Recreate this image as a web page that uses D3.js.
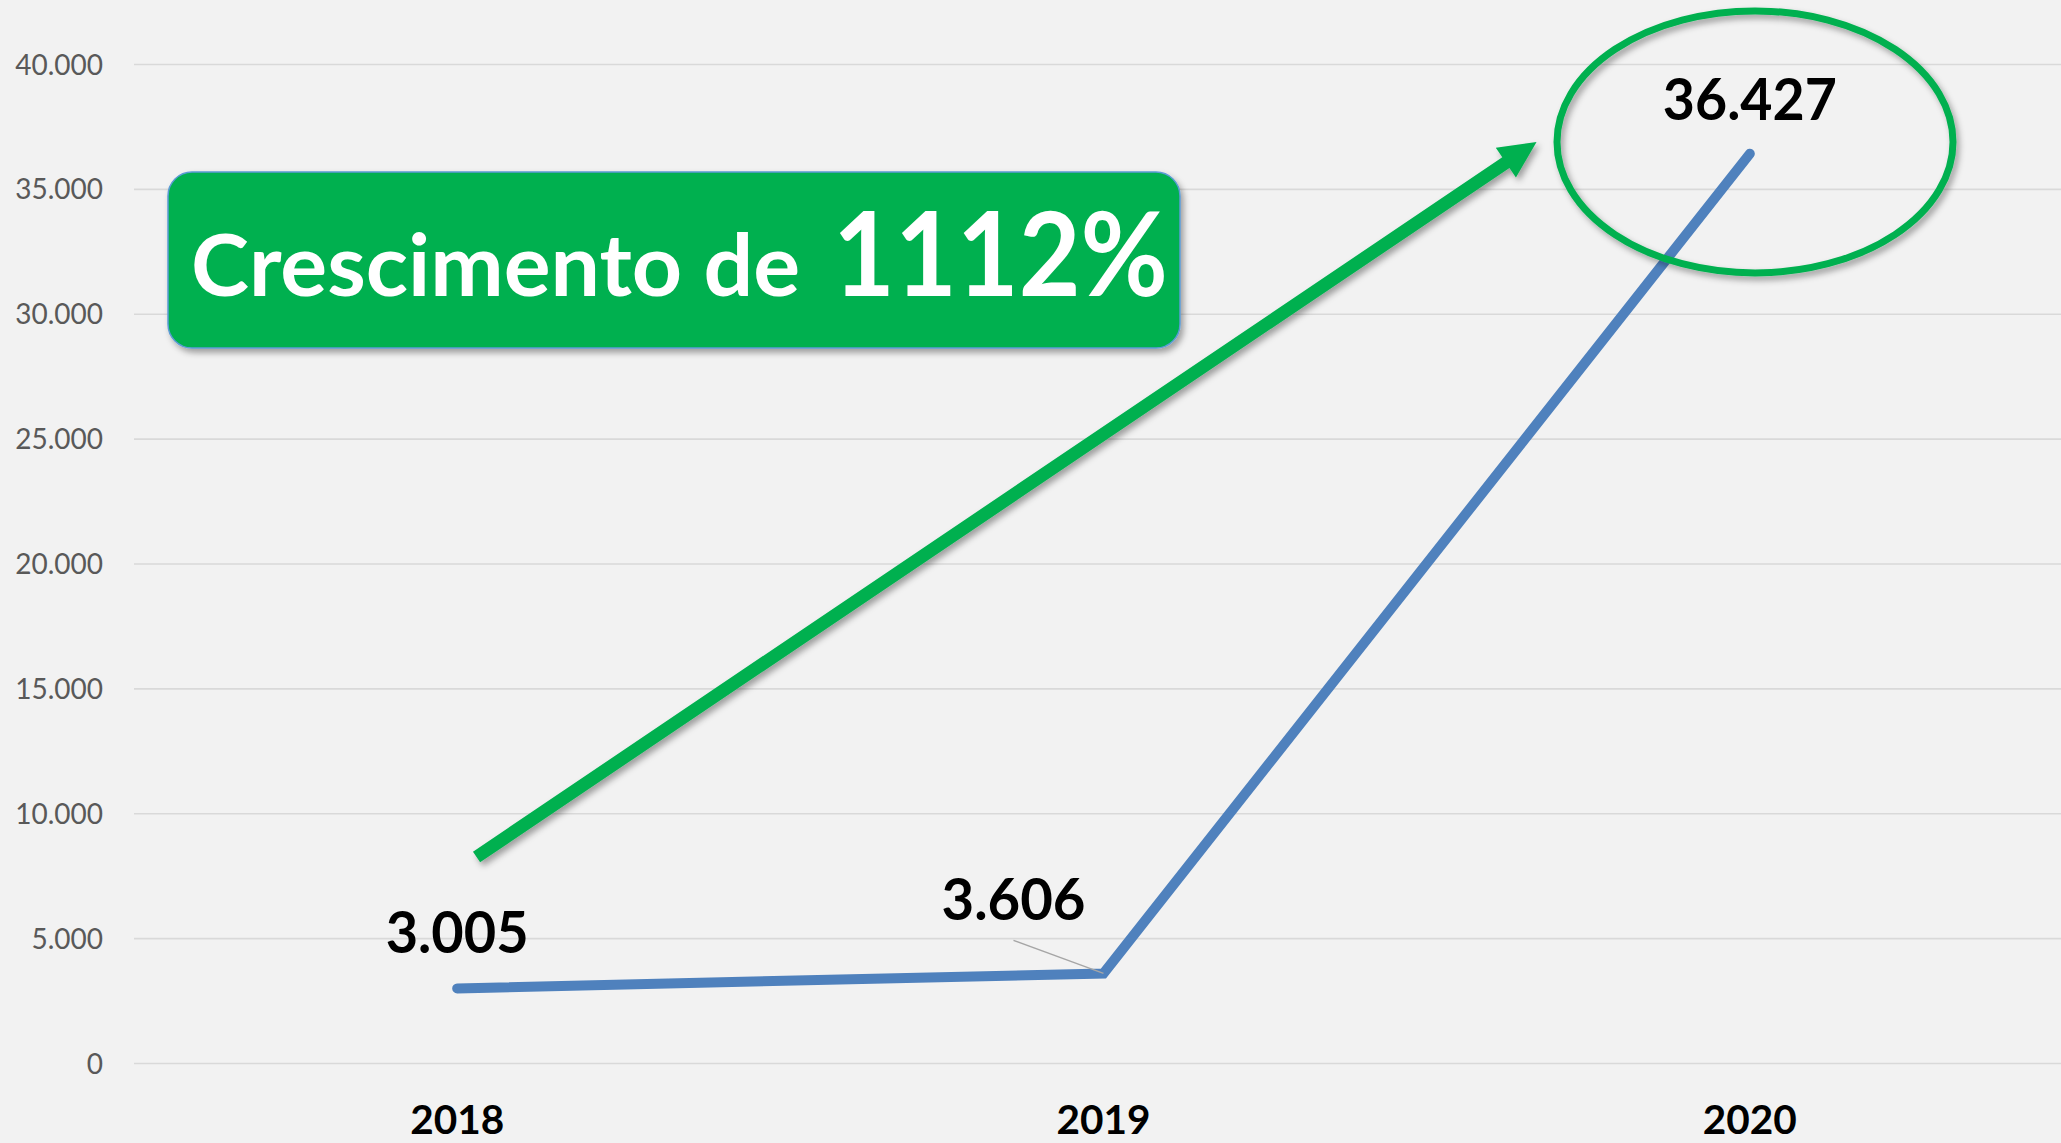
<!DOCTYPE html>
<html>
<head>
<meta charset="utf-8">
<script src="https://cdn.jsdelivr.net/npm/d3@7"></script>
<style>
  html, body { margin: 0; padding: 0; background: #f2f2f2; overflow: hidden; }
  svg { display: block; }
</style>
</head>
<body>
<div id="chart"></div>
<script>
// data
const years = ['2018', '2019', '2020']
const values = [3005, 3606, 36427]
const valueLabels = ['3.005', '3.606', '36.427']
const yTicks = [0, 5000, 10000, 15000, 20000, 25000, 30000, 35000, 40000]
const yTickLabels = ['0', '5.000', '10.000', '15.000', '20.000', '25.000', '30.000', '35.000', '40.000']
const headline = ['Crescimento de', '1112%']
// annotation anchors in data units (year index, value)
const arrowFrom = [0.03, 8270]
const arrowTo = [1.67, 36900]
const circleAt = [2.008, 36900]

const width = 2061,
    height = 1143

const svg = d3.select('#chart')
    .append('svg')
    .attr('width', width)
    .attr('height', height)

const defs = svg.append('defs')
defs.append('filter')
    .attr('id', 'shadow')
    .attr('x', '-20%').attr('y', '-20%')
    .attr('width', '140%').attr('height', '140%')
    .append('feDropShadow')
    .attr('dx', 3).attr('dy', 4)
    .attr('stdDeviation', 3)
    .attr('flood-color', '#000')
    .attr('flood-opacity', 0.35)

svg.append('rect')
    .attr('width', width)
    .attr('height', height)
    .attr('fill', '#f2f2f2')

let x = d3.scaleBand()
    .domain(years)
    .range([134, 2073])

let xIdx = d3.scaleLinear()
    .domain([0, years.length - 1])
    .range([x(years[0]) + x.bandwidth() / 2, x(years[years.length - 1]) + x.bandwidth() / 2])

let y = d3.scaleLinear()
    .domain([0, 40000])
    .range([1063.5, 64.5])

// grid
svg.append('g')
    .selectAll('line')
    .data(yTicks)
    .join('line')
    .attr('x1', 134)
    .attr('x2', width)
    .attr('y1', d => y(d))
    .attr('y2', d => y(d))
    .attr('stroke', '#d9d9d9')
    .attr('stroke-width', 1.6)

// y axis labels
svg.append('g')
    .selectAll('text')
    .data(yTicks)
    .join('text')
    .attr('x', 103)
    .attr('y', d => y(d) + 10)
    .attr('text-anchor', 'end')
    .attr('font-family', 'Lato, sans-serif')
    .attr('font-size', 28)
    .attr('fill', '#595959')
    .text((d, i) => yTickLabels[i])

// x axis labels (nudged up a little so they are not clipped by the edge)
svg.append('g')
    .selectAll('text')
    .data(years)
    .join('text')
    .attr('x', d => x(d) + x.bandwidth() / 2)
    .attr('y', 1134)
    .attr('text-anchor', 'middle')
    .attr('font-family', 'Lato, sans-serif')
    .attr('font-weight', 'bold')
    .attr('font-size', 41)
    .attr('fill', '#000')
    .attr('textLength', 94)
    .attr('lengthAdjust', 'spacingAndGlyphs')
    .text(d => d)

// series line
let points = years.map((d, i) => [x(d) + x.bandwidth() / 2, y(values[i])])
svg.append('path')
    .datum(points)
    .attr('d', d3.line())
    .attr('fill', 'none')
    .attr('stroke', '#4f81bd')
    .attr('stroke-width', 10)
    .attr('stroke-linecap', 'round')
    .attr('stroke-linejoin', 'miter')

// leader line for the moved 2019 label
let lbl19 = [points[1][0] - 90, points[1][1] - 53]
svg.append('line')
    .attr('x1', lbl19[0])
    .attr('y1', lbl19[1] + 20)
    .attr('x2', points[1][0])
    .attr('y2', points[1][1])
    .attr('stroke', '#a6a6a6')
    .attr('stroke-width', 1.4)

// data labels
let labelPos = [
    [points[0][0], points[0][1] - 35],
    lbl19,
    [points[2][0], points[2][1] - 34]
]
let labelW = [143, 144, 174]
svg.append('g')
    .selectAll('text')
    .data(valueLabels)
    .join('text')
    .attr('x', (d, i) => labelPos[i][0])
    .attr('y', (d, i) => labelPos[i][1])
    .attr('text-anchor', 'middle')
    .attr('font-family', 'Lato, sans-serif')
    .attr('font-weight', 'bold')
    .attr('font-size', 58)
    .attr('fill', '#000')
    .attr('textLength', (d, i) => labelW[i])
    .attr('lengthAdjust', 'spacingAndGlyphs')
    .text(d => d)

// green ellipse around the 2020 value
svg.append('ellipse')
    .attr('cx', xIdx(circleAt[0]))
    .attr('cy', y(circleAt[1]))
    .attr('rx', 198)
    .attr('ry', 131)
    .attr('fill', 'none')
    .attr('stroke', '#00b050')
    .attr('stroke-width', 7)
    .attr('filter', 'url(#shadow)')

// green arrow
let p0 = [xIdx(arrowFrom[0]), y(arrowFrom[1])]
let p1 = [xIdx(arrowTo[0]), y(arrowTo[1])]
let dx = p1[0] - p0[0],
    dy = p1[1] - p0[1]
let len = Math.hypot(dx, dy)
let ux = dx / len,
    uy = dy / len
let nx = -uy,
    ny = ux
let shaftW = 6.4,
    headW = 18,
    headL = 37
let base = [p1[0] - ux * headL, p1[1] - uy * headL]
let arrowPts = [
    [p0[0] + nx * shaftW, p0[1] + ny * shaftW],
    [base[0] + nx * shaftW, base[1] + ny * shaftW],
    [base[0] + nx * headW, base[1] + ny * headW],
    p1,
    [base[0] - nx * headW, base[1] - ny * headW],
    [base[0] - nx * shaftW, base[1] - ny * shaftW],
    [p0[0] - nx * shaftW, p0[1] - ny * shaftW]
]
svg.append('polygon')
    .attr('points', arrowPts.map(p => p.join(',')).join(' '))
    .attr('fill', '#00b050')
    .attr('filter', 'url(#shadow)')

// headline box
svg.append('rect')
    .attr('x', 168)
    .attr('y', 172)
    .attr('width', 1012)
    .attr('height', 176)
    .attr('rx', 24)
    .attr('fill', '#00b050')
    .attr('stroke', '#5b9bd5')
    .attr('stroke-width', 1.5)
    .attr('filter', 'url(#shadow)')

svg.append('text')
    .attr('x', 191)
    .attr('y', 296)
    .attr('font-family', 'Lato, sans-serif')
    .attr('font-weight', 'bold')
    .attr('font-size', 86)
    .attr('fill', '#fff')
    .attr('textLength', 609)
    .attr('lengthAdjust', 'spacingAndGlyphs')
    .text(headline[0])

svg.append('text')
    .attr('x', 833)
    .attr('y', 296)
    .attr('font-family', 'Lato, sans-serif')
    .attr('font-weight', 'bold')
    .attr('font-size', 116)
    .attr('fill', '#fff')
    .attr('textLength', 335)
    .attr('lengthAdjust', 'spacingAndGlyphs')
    .text(headline[1])
</script>
</body>
</html>
